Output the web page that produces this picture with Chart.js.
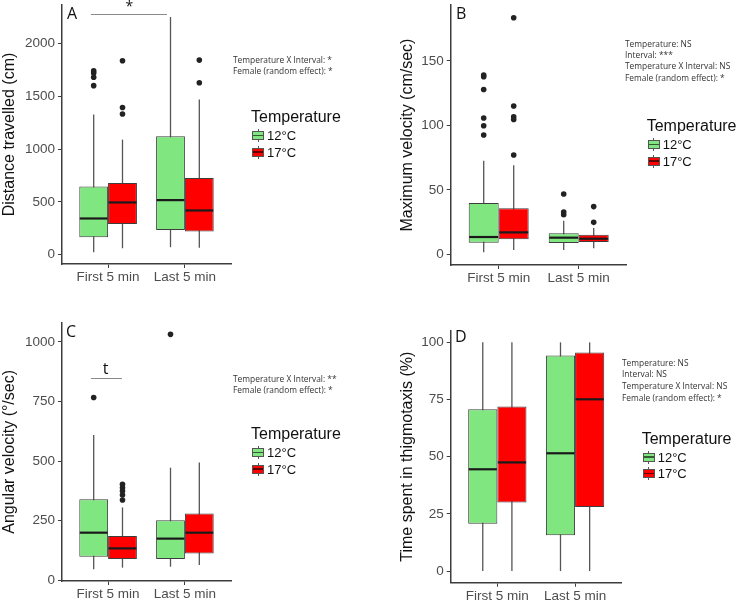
<!DOCTYPE html>
<html>
<head>
<meta charset="utf-8">
<script src="https://cdn.jsdelivr.net/npm/chart.js@4.4.1/dist/chart.umd.min.js"></script>
<style>
  body { margin: 0; background: #fff; }
  #page { position: relative; width: 741px; height: 602px; overflow: hidden; font-family: "Liberation Sans", Arial, sans-serif; }
  canvas { position: absolute; }
  .txt { position: absolute; white-space: nowrap; color: #111; }
  .cal { font-family: "Open Sans", sans-serif; }
  .stats { position: absolute; white-space: nowrap; font-family: "Open Sans", sans-serif; font-size: 8.4px; color: #333; }
  .sig { position: absolute; height: 0; border-top: 1px solid #8a8a8a; }
  .key { position: absolute; width: 10px; height: 7px; border: 1px solid #555; }
  .key i { position: absolute; left: 0; right: 0; top: 2.5px; height: 1.6px; background: rgba(0,0,0,0.6); }
  .key::before, .key::after { content: ""; position: absolute; left: 4.5px; width: 1px; height: 2px; background: #555; }
  .key::before { top: -3px; }
  .key::after { bottom: -3px; }
</style>
</head>
<body>
<div id="page">
  <canvas id="chartA" width="370" height="300" style="left:0;top:0"></canvas>
  <canvas id="chartB" width="371" height="300" style="left:370px;top:0"></canvas>
  <canvas id="chartC" width="370" height="302" style="left:0;top:300px"></canvas>
  <canvas id="chartD" width="371" height="302" style="left:370px;top:300px"></canvas>
  <div id="overlay"></div>
</div>
<script>
const groups = ["First 5 min", "Last 5 min"];
const temps = ["12°C", "17°C"];

// each row: [lower whisker, Q1, median, Q3, upper whisker], one row per interval
const distance12 = [[22, 165, 342, 646, 1326], [70, 234, 516, 1120, 2250]];
const distance17 = [[60, 291, 494, 677, 1089], [66, 218, 418, 725, 1469]];
const distance12Out = [[1600, 1680, 1720, 1740], []];
const distance17Out = [[1332, 1393, 1836], [1627, 1842]];
const distanceTicks = [0, 500, 1000, 1500, 2000];

const velocity12 = [[1.5, 9.0, 13.4, 39.8, 72.6], [3.4, 8.8, 12.9, 16.3, 26.1]];
const velocity17 = [[3.4, 11.6, 17, 35.7, 69], [4.7, 9.6, 12.1, 15.2, 20.4]];
const velocity12Out = [[92.5, 99.7, 105.7, 127.9, 137.7, 139], [30.7, 32.8, 46.8]];
const velocity17Out = [[77, 104.6, 106.7, 115, 183.5], [24.8, 37]];
const velocityTicks = [0, 50, 100, 150];

const angular12 = [[45, 98, 199, 339, 609], [56, 88, 174, 251, 472]];
const angular17 = [[52, 88, 133, 185, 305], [63, 112, 199, 280, 494]];
const angular12Out = [[767], [1032]];
const angular17Out = [[336, 357, 374, 388, 402], []];
const angularTicks = [0, 250, 500, 750, 1000];

const thigmo12 = [[0, 20.7, 44.5, 70.7, 100], [0, 15.7, 51.5, 94.3, 100]];
const thigmo17 = [[0, 30, 47.5, 71.9, 100], [0, 28, 75.1, 95.6, 100]];
const thigmo12Out = [[], []];
const thigmo17Out = [[], []];
const thigmoTicks = [0, 25, 50, 75, 100];

const fillColors = ["#80e680", "#ff0000"];

Chart.defaults.font.family = "'Liberation Sans', Arial, sans-serif";

// whiskers behind the boxes, medians and outliers on top
const boxPlugin = {
  id: "boxExtras",
  beforeDatasetsDraw(chart) {
    const ctx = chart.ctx;
    const y = chart.scales.y;
    chart.data.datasets.forEach((ds, di) => {
      chart.getDatasetMeta(di).data.forEach((bar, i) => {
        const s = ds.stats[i];
        ctx.save();
        ctx.strokeStyle = "#555";
        ctx.lineWidth = 1.3;
        ctx.beginPath();
        ctx.moveTo(bar.x, y.getPixelForValue(s[0]));
        ctx.lineTo(bar.x, y.getPixelForValue(s[4]));
        ctx.stroke();
        ctx.restore();
      });
    });
  },
  afterDatasetsDraw(chart) {
    const ctx = chart.ctx;
    const y = chart.scales.y;
    chart.data.datasets.forEach((ds, di) => {
      chart.getDatasetMeta(di).data.forEach((bar, i) => {
        const s = ds.stats[i];
        const py = y.getPixelForValue(s[2]);
        ctx.save();
        ctx.strokeStyle = "#1a1a1a";
        ctx.lineWidth = 2.2;
        ctx.beginPath();
        ctx.moveTo(bar.x - bar.width / 2 + 0.5, py);
        ctx.lineTo(bar.x + bar.width / 2 - 0.5, py);
        ctx.stroke();
        ctx.fillStyle = "#222";
        ds.outliers[i].forEach(v => {
          ctx.beginPath();
          ctx.arc(bar.x, y.getPixelForValue(v), 2.8, 0, Math.PI * 2);
          ctx.fill();
        });
        ctx.restore();
      });
    });
  }
};

function makeChart(id, stats12, stats17, out12, out17, yTitle, yMin, yMax, yTicks, box) {
  const makeSet = (k, stats, outs) => ({
    label: temps[k],
    data: stats.map((s, i) => ({ x: i + 1, y: [s[1], s[3]] })),
    stats: stats,
    outliers: outs,
    backgroundColor: fillColors[k],
    borderColor: "#3d3d3d",
    borderWidth: 1,
    borderSkipped: false,
    categoryPercentage: 0.75,
    barPercentage: 1
  });

  return new Chart(document.getElementById(id), {
    type: "bar",
    data: { datasets: [makeSet(0, stats12, out12), makeSet(1, stats17, out17)] },
    options: {
      responsive: false,
      animation: false,
      devicePixelRatio: 1,
      layout: { padding: { left: box.pl, right: box.pr, top: box.pt, bottom: 0 } },
      plugins: { legend: { display: false }, tooltip: { enabled: false } },
      scales: {
        x: {
          type: "linear",
          min: 0.4,
          max: 2.6,
          offset: false,
          grid: { display: true, drawOnChartArea: false, drawTicks: true, tickLength: 4, color: "#3d3d3d", offset: false },
          border: { display: true, color: "#3d3d3d", width: 1.5 },
          ticks: { autoSkip: false, maxRotation: 0, padding: 1, color: "#4d4d4d", font: { size: 13.5 },
            callback: (v, i) => groups[i] },
          afterBuildTicks: a => { a.ticks = groups.map((g, i) => ({ value: i + 1 })); },
          afterFit: a => { a.height = box.xH; a.paddingLeft = 0; a.paddingRight = 0; }
        },
        y: {
          min: yMin,
          max: yMax,
          beginAtZero: false,
          grid: { display: true, drawOnChartArea: false, drawTicks: true, tickLength: 4, color: "#3d3d3d" },
          border: { display: true, color: "#3d3d3d", width: 1.5 },
          ticks: { padding: 3, color: "#4d4d4d", font: { size: 13.5 }, callback: v => String(v) },
          title: { display: true, text: yTitle, color: "#111", font: { size: 16 }, padding: 0 },
          afterBuildTicks: a => { a.ticks = yTicks.map(v => ({ value: v })); },
          afterFit: a => { a.width = box.yW; a.paddingTop = 0; a.paddingBottom = 0; }
        }
      }
    },
    plugins: [boxPlugin]
  });
}

makeChart("chartA", distance12, distance17, distance12Out, distance17Out,
  "Distance travelled (cm)", -89, 2364, distanceTicks,
  { pl: 0, yW: 62, pr: 139, pt: 5, xH: 36 });
makeChart("chartB", velocity12, velocity17, velocity12Out, velocity17Out,
  "Maximum velocity (cm/sec)", -8.3, 193.4, velocityTicks,
  { pl: 28, yW: 52.7, pr: 114.3, pt: 5, xH: 35 });
makeChart("chartC", angular12, angular17, angular12Out, angular17Out,
  "Angular velocity (°/sec)", -4, 1081, angularTicks,
  { pl: 0, yW: 62, pr: 139, pt: 22.7, xH: 21 });
makeChart("chartD", thigmo12, thigmo17, thigmo12Out, thigmo17Out,
  "Time spent in thigmotaxis (%)", -5.1, 105.1, thigmoTicks,
  { pl: 28, yW: 52.7, pr: 119.3, pt: 30.7, xH: 19.3 });

// ---------------- annotations ----------------

function legendHtml(left, cy) {
  return `
    <div class="txt" style="left:${left}px;top:${cy - 7.8}px;font-size:16px;line-height:1">Temperature</div>
    <div class="key" style="left:${left + 1}px;top:${cy + 18.7 - 4.5}px;background:${fillColors[0]}"><i></i></div>
    <div class="txt" style="left:${left + 16}px;top:${cy + 18.7 - 6.35}px;font-size:13px;line-height:1">${temps[0]}</div>
    <div class="key" style="left:${left + 1}px;top:${cy + 35.3 - 4.5}px;background:${fillColors[1]}"><i></i></div>
    <div class="txt" style="left:${left + 16}px;top:${cy + 35.3 - 6.35}px;font-size:13px;line-height:1">${temps[1]}</div>`;
}

function statsHtml(left, top, lh, lines) {
  return `<div class="stats" style="left:${left}px;top:${top}px;line-height:${lh}px">${lines.join("<br>")}</div>`;
}

function letterHtml(left, top, text) {
  return `<div class="txt cal" style="left:${left}px;top:${top}px;font-size:16px;line-height:20px">${text}</div>`;
}

let html = "";
html += letterHtml(67, 2.8, "A") + letterHtml(456, 3.3, "B") + letterHtml(66, 320.5, "C") + letterHtml(455, 325.5, "D");

html += `<div class="sig" style="left:91px;top:13.5px;width:76px"></div>`;
html += `<div class="txt cal" style="left:119.3px;top:-0.7px;width:20px;text-align:center;font-size:14px;line-height:14px">*</div>`;
html += `<div class="sig" style="left:90.5px;top:378px;width:31px"></div>`;
html += `<div class="txt cal" style="left:95.7px;top:359.8px;width:20px;text-align:center;font-size:16px;line-height:16px">t</div>`;

html += statsHtml(233, 55.3, 10.5, ["Temperature X Interval: *", "Female (random effect): *"]);
html += statsHtml(625, 37.8, 11.3, ["Temperature: NS", "Interval: ***", "Temperature X Interval: NS", "Female (random effect): *"]);
html += statsHtml(233, 374.3, 10.7, ["Temperature X Interval: **", "Female (random effect): *"]);
html += statsHtml(622, 356.6, 11.7, ["Temperature: NS", "Interval: NS", "Temperature X Interval: NS", "Female (random effect): *"]);

html += legendHtml(251, 117) + legendHtml(646.7, 126) + legendHtml(251, 434) + legendHtml(641.7, 438.3);

document.getElementById("overlay").innerHTML = html;
</script>
</body>
</html>
